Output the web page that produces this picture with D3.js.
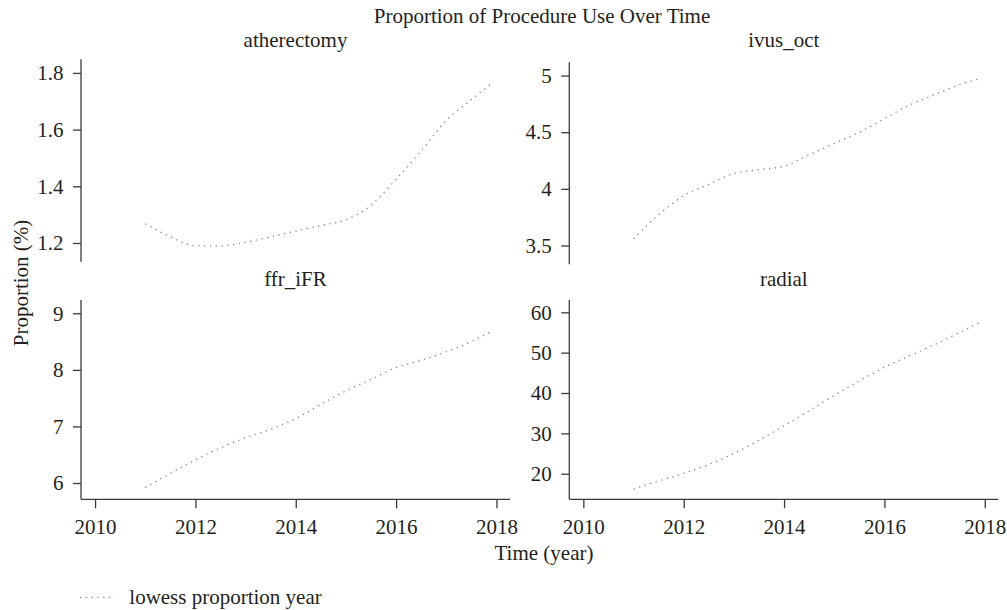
<!DOCTYPE html>
<html>
<head>
<meta charset="utf-8">
<script src="https://cdn.jsdelivr.net/npm/d3@7"></script>
<style>
  html, body { margin: 0; padding: 0; background: #fff; }
  svg { display: block; }
  text { font-family: "Liberation Serif", "Times New Roman", serif; fill: #231f20; }
</style>
</head>
<body>
<svg id="chart" width="1007" height="610"></svg>
<script>
// ---- data ----
const years = [2011, 2011.5, 2012, 2012.5, 2013, 2013.5, 2014, 2014.5, 2015, 2015.5, 2016, 2016.5, 2017, 2017.5, 2017.92];
const atherectomy = [1.268, 1.222, 1.190, 1.190, 1.203, 1.222, 1.242, 1.262, 1.282, 1.333, 1.425, 1.525, 1.632, 1.706, 1.765];
const ivusOct     = [3.56, 3.77, 3.94, 4.04, 4.135, 4.17, 4.20, 4.30, 4.40, 4.50, 4.62, 4.74, 4.83, 4.92, 4.975];
const ffrIfr      = [5.92, 6.17, 6.41, 6.62, 6.80, 6.95, 7.14, 7.39, 7.63, 7.83, 8.04, 8.17, 8.32, 8.50, 8.69];
const radial      = [16.2, 18.2, 20.1, 22.3, 25.0, 28.3, 31.9, 35.6, 39.4, 43.0, 46.4, 49.2, 52.0, 55.0, 57.6];

const panelNames = ["atherectomy", "ivus_oct", "ffr_iFR", "radial"];
const panelSeries = [atherectomy, ivusOct, ffrIfr, radial];
const panelYTicks = [[1.2, 1.4, 1.6, 1.8], [3.5, 4, 4.5, 5], [6, 7, 8, 9], [20, 30, 40, 50, 60]];
const panelYDomains = [[1.134, 1.848], [3.334, 5.117], [5.712, 9.235], [13.66, 63.05]];
const xTicks = [2010, 2012, 2014, 2016, 2018];
const xDomain = [2009.72, 2018.27];

const titleText = "Proportion of Procedure Use Over Time";
const xLabel = "Time (year)";
const yLabel = "Proportion (%)";
const legendLabel = "lowess proportion year";

// ---- layout ----
const FS = 21;
const lineColor = "#7f87a8";
const axisColor = "#3a3a3a";
const panels = [
  {x0: 81,    y0: 59.3, y1: 261.7, xaxis: false},
  {x0: 569.3, y0: 62.3, y1: 264.3, xaxis: false},
  {x0: 81,    y0: 300,  y1: 499.3, xaxis: true},
  {x0: 569.3, y0: 300,  y1: 499.3, xaxis: true}
];
const PW = 429;

const svg = d3.select("#chart");

svg.append("text").attr("x", 542).attr("y", 23).attr("text-anchor", "middle")
  .style("font-size", FS + "px").text(titleText);

panels.forEach((p, i) => {
  const g = svg.append("g").attr("transform", `translate(${p.x0},0)`);
  const x = d3.scaleLinear().domain(xDomain).range([0, PW]);
  const y = d3.scaleLinear().domain(panelYDomains[i]).range([p.y1, p.y0]);

  // subtitle
  g.append("text").attr("x", PW / 2).attr("y", i < 2 ? 46.5 : 286)
    .attr("text-anchor", "middle").style("font-size", FS + "px").text(panelNames[i]);

  // y axis
  const ya = g.append("g").call(d3.axisLeft(y).tickValues(panelYTicks[i]).tickSize(8).tickPadding(9.5)
      .tickFormat(d => String(d)));
  ya.select(".domain").attr("d", `M0,${p.y0}V${p.y1}`);
  ya.selectAll("path, line").attr("stroke", axisColor).attr("stroke-width", 1.3);
  ya.selectAll("text").style("font-size", FS + "px").style("font-family", "Liberation Serif").attr("fill", "#231f20");

  // x axis
  if (p.xaxis) {
    const xa = g.append("g").attr("transform", `translate(0,${p.y1})`)
      .call(d3.axisBottom(x).tickValues(xTicks).tickSize(9).tickPadding(11).tickFormat(d3.format("d")));
    xa.select(".domain").attr("d", `M0,0H${PW}`);
    xa.selectAll("path, line").attr("stroke", axisColor).attr("stroke-width", 1.3);
    xa.selectAll("text").style("font-size", FS + "px").style("font-family", "Liberation Serif").attr("fill", "#231f20");
  }

  // line
  const data = years.map((yr, k) => [yr, panelSeries[i][k]]);
  g.append("path").datum(data)
    .attr("fill", "none").attr("stroke", lineColor).attr("stroke-width", 1.3)
    .attr("stroke-dasharray", "1.3,4.5")
    .attr("d", d3.line().x(d => x(d[0])).y(d => y(d[1])).curve(d3.curveMonotoneX));
});

// axis labels
svg.append("text").attr("x", 544).attr("y", 560).attr("text-anchor", "middle")
  .style("font-size", FS + "px").text(xLabel);
svg.append("text").attr("transform", "translate(28,283) rotate(-90)").attr("text-anchor", "middle")
  .style("font-size", FS + "px").text(yLabel);

// legend
svg.append("line").attr("x1", 80).attr("x2", 115).attr("y1", 597.3).attr("y2", 597.3)
  .attr("stroke", lineColor).attr("stroke-width", 1.3).attr("stroke-dasharray", "1.3,4.5");
svg.append("text").attr("x", 129.3).attr("y", 604).style("font-size", FS + "px").text(legendLabel);
</script>
</body>
</html>
